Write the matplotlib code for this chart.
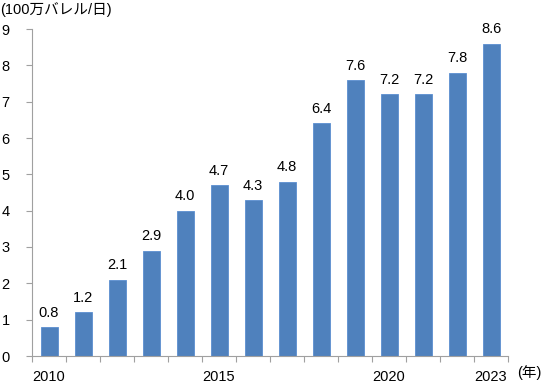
import matplotlib
matplotlib.use("Agg")
import matplotlib.pyplot as plt
import numpy as np

plt.rcParams['font.family'] = ['Liberation Sans', 'Noto Sans CJK JP', 'DejaVu Sans']

years = list(range(2010, 2024))
values = [0.8, 1.2, 2.1, 2.9, 4.0, 4.7, 4.3, 4.8, 6.4, 7.6, 7.2, 7.2, 7.8, 8.6]
value_labels = ["0.8", "1.2", "2.1", "2.9", "4.0", "4.7", "4.3", "4.8", "6.4", "7.6", "7.2", "7.2", "7.8", "8.6"]
shown_years = [2010, 2015, 2020, 2023]
yticks = list(range(0, 10))

fig = plt.figure(figsize=(5.42, 3.83), dpi=100)
ax = fig.add_axes([32/542, 27/383, 476/542, (356-29)/383])

x = np.arange(len(years))
ax.bar(x, values, width=0.5, color="#4F81BD", edgecolor="#5B8FD0", linewidth=0.6)
for xi, v, lab in zip(x, values, value_labels):
    ax.text(xi, v + 0.2, lab, ha="center", va="bottom", fontsize=10.5)

ax.set_xlim(-0.5, len(years) - 0.5)
ax.set_ylim(0, 9)
ax.set_yticks(yticks)
ax.set_yticklabels([str(t) for t in yticks], fontsize=10.5)

ax.set_xticks([years.index(y) for y in shown_years])
ax.set_xticklabels([str(y) for y in shown_years], fontsize=10.5)
ax.set_xticks(np.arange(-0.5, len(years)), minor=True)
ax.tick_params(axis="x", which="major", length=0, pad=10)
ax.tick_params(axis="x", which="minor", length=4, color="#A0A0A0", width=0.8)
ax.tick_params(axis="y", length=4, color="#A0A0A0", width=0.8, pad=12)

for s in ["top", "right"]:
    ax.spines[s].set_visible(False)
for s in ["left", "bottom"]:
    ax.spines[s].set_color("#A0A0A0")
    ax.spines[s].set_linewidth(0.8)

fig.text(0.0, 1 - 10/383, "(100万バレル/日)", ha="left", va="center", fontsize=10.5)
fig.text(1 - 1/542, 1 - 373/383, "(年)", ha="right", va="center", fontsize=10.5)

fig.savefig("out.png", dpi=100)
